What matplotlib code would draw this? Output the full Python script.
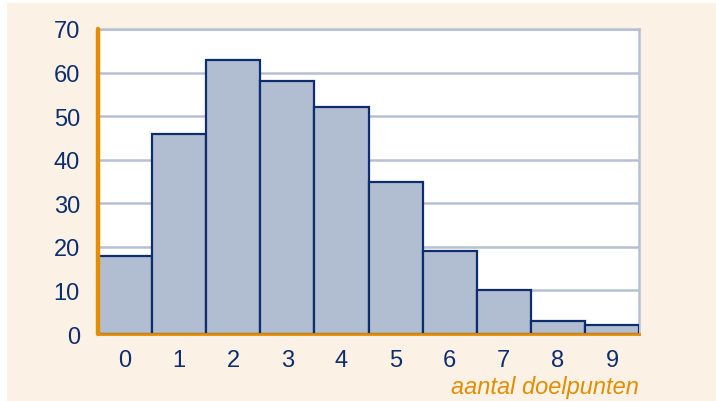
import matplotlib
matplotlib.use("Agg")
import matplotlib.pyplot as plt
from matplotlib.patches import Rectangle

# Number of goals per match and how many matches ended with that many goals
goals = [0, 1, 2, 3, 4, 5, 6, 7, 8, 9]
matches = [18, 46, 63, 58, 52, 35, 19, 10, 3, 2]
y_ticks = [0, 10, 20, 30, 40, 50, 60, 70]
x_label = "aantal doelpunten"

navy = "#0E2D6E"
orange = "#E58C00"
grid_col = "#B6C0D4"
bar_fill = "#B1BDD1"
cream = "#FCF1E5"

plt.rcParams["font.family"] = ["Liberation Sans", "DejaVu Sans"]

fig = plt.figure(figsize=(7.16, 4.02), dpi=100, facecolor="white")
fig.patches.append(Rectangle((7 / 716, 0), 709 / 716, 1 - 4 / 402,
                             transform=fig.transFigure, facecolor=cream,
                             edgecolor="none", zorder=-10))

ax = fig.add_axes([98 / 716, 1 - 335 / 402, 541 / 716, 305 / 402])
ax.set_zorder(1)
ax.set_facecolor("white")

ax.bar(goals, matches, width=1.0, align="center", color=bar_fill,
       edgecolor=navy, linewidth=1.6, zorder=3)

ax.set_xlim(-0.5, 9.5)
ax.set_ylim(0, 70)
ax.set_yticks(y_ticks)
ax.set_xticks(goals)
ax.yaxis.grid(True, color=grid_col, linewidth=1.8, zorder=1)
ax.set_axisbelow(True)

ax.tick_params(axis="both", length=0, labelsize=17, labelcolor=navy)
ax.tick_params(axis="y", pad=13)
ax.tick_params(axis="x", pad=11)

for side in ("top", "right"):
    ax.spines[side].set_color(grid_col)
    ax.spines[side].set_linewidth(1.8)
ax.spines["left"].set_color(orange)
ax.spines["left"].set_linewidth(3.2)
ax.spines["left"].set_capstyle("round")
ax.spines["bottom"].set_color(orange)
ax.spines["bottom"].set_linewidth(2.0)
ax.spines["left"].set_zorder(5)
ax.spines["bottom"].set_zorder(5)

ax.set_xlabel(x_label, fontsize=17, style="italic", color=orange,
              labelpad=4)
ax.xaxis.set_label_coords(1.0, -0.135)
ax.xaxis.label.set_horizontalalignment("right")

fig.savefig("out.png", dpi=100, facecolor=fig.get_facecolor())
